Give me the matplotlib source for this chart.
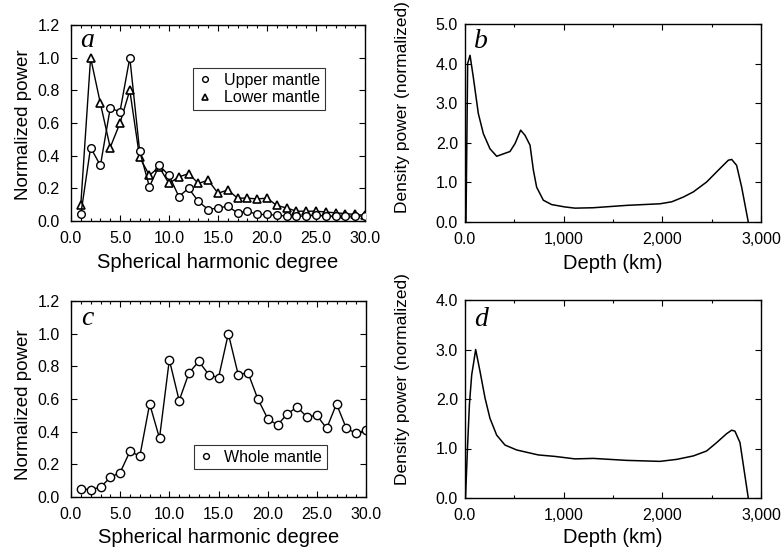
import matplotlib
matplotlib.use("Agg")
import matplotlib.pyplot as plt
from matplotlib.ticker import MultipleLocator, FuncFormatter

plt.rcParams['font.family'] = ['Liberation Sans', 'DejaVu Sans']

# spherical harmonic degree 1..30
degree = list(range(1, 31))
upper_mantle = [0.04, 0.45, 0.34, 0.69, 0.67, 1.00, 0.43, 0.21, 0.34, 0.28,
                0.15, 0.20, 0.12, 0.07, 0.08, 0.09, 0.05, 0.06, 0.04, 0.04,
                0.035, 0.03, 0.03, 0.03, 0.035, 0.03, 0.03, 0.03, 0.03, 0.03]
lower_mantle = [0.10, 1.00, 0.72, 0.45, 0.60, 0.80, 0.39, 0.28, 0.33, 0.23,
                0.27, 0.29, 0.23, 0.25, 0.17, 0.19, 0.14, 0.14, 0.135, 0.14,
                0.095, 0.08, 0.06, 0.06, 0.06, 0.055, 0.05, 0.045, 0.04, 0.035]
whole_mantle = [0.05, 0.045, 0.06, 0.12, 0.15, 0.28, 0.25, 0.57, 0.36, 0.84,
                0.59, 0.76, 0.83, 0.75, 0.73, 1.00, 0.75, 0.76, 0.60, 0.48,
                0.44, 0.51, 0.55, 0.49, 0.50, 0.42, 0.57, 0.42, 0.39, 0.41]

# density power vs depth
depth_b = [10, 27, 51, 84, 135, 186, 253, 321, 456, 507, 564, 608, 659, 693,
           726, 794, 878, 1013, 1115, 1300, 1639, 1976, 2095, 2213, 2314,
           2449, 2584, 2669, 2703, 2753, 2804, 2871]
power_b = [0.0, 4.0, 4.21, 3.66, 2.74, 2.23, 1.85, 1.66, 1.78, 1.98, 2.32,
           2.19, 1.94, 1.31, 0.88, 0.55, 0.44, 0.38, 0.35, 0.36, 0.42, 0.46,
           0.51, 0.63, 0.76, 1.01, 1.35, 1.56, 1.58, 1.43, 0.88, 0.0]

depth_d = [5, 25, 45, 68, 85, 108, 152, 203, 253, 321, 405, 524, 743, 912,
           1115, 1300, 1639, 1976, 2145, 2314, 2449, 2551, 2652, 2703, 2736,
           2787, 2871]
power_d = [0.0, 1.0, 1.9, 2.49, 2.7, 3.0, 2.56, 2.02, 1.61, 1.27, 1.07,
           0.97, 0.87, 0.84, 0.79, 0.80, 0.76, 0.74, 0.78, 0.85, 0.95, 1.12,
           1.30, 1.37, 1.35, 1.12, 0.0]

W, H = 782, 547
fig = plt.figure(figsize=(W / 100, H / 100), dpi=100)


def px_axes(left, right, top, bottom):
    return fig.add_axes([left / W, (H - bottom) / H, (right - left) / W, (bottom - top) / H])


def style(ax, ypad):
    for s in ax.spines.values():
        s.set_linewidth(1.0)
    ax.tick_params(direction='in', which='both', top=True, right=True,
                   labelsize=11.5, width=0.8)
    ax.tick_params(which='major', length=4)
    ax.tick_params(which='minor', length=2.5)
    ax.tick_params(axis='x', which='both', pad=7.5)
    ax.tick_params(axis='y', which='both', pad=ypad)


def clean_legend(ax):
    leg = ax.legend_
    leg.get_frame().set_linewidth(0.8)
    for line in leg.get_lines():
        line.set_linestyle('none')


one_dec = FuncFormatter(lambda v, p: f"{v:.1f}")
thousands = FuncFormatter(lambda v, p: "0.0" if v == 0 else f"{int(v):,}")

# ---- a ----
ax_a = px_axes(71, 365, 25, 221)
ax_a.plot(degree, upper_mantle, color='black', lw=1, marker='o', ms=5.5,
          mfc='white', mec='black', mew=1, label='Upper mantle', zorder=3)
ax_a.plot(degree, lower_mantle, color='black', lw=1, marker='^', ms=5.5,
          mfc='white', mec='black', mew=1.2, label='Lower mantle', zorder=2)
ax_a.set_xlim(0, 30)
ax_a.set_ylim(0, 1.2)
ax_a.xaxis.set_major_locator(MultipleLocator(5))
ax_a.xaxis.set_minor_locator(MultipleLocator(1))
ax_a.yaxis.set_major_locator(MultipleLocator(0.2))
ax_a.xaxis.set_major_formatter(one_dec)
ax_a.yaxis.set_major_formatter(one_dec)
ax_a.set_xlabel('Spherical harmonic degree', fontsize=14.5)
ax_a.set_ylabel('Normalized power', fontsize=13.5)
ax_a.xaxis.set_label_coords(0.5, -0.165)
ax_a.yaxis.set_label_coords(-0.132, 0.49)
ax_a.legend(loc='upper right', bbox_to_anchor=(0.89, 0.82), fontsize=11.5,
            frameon=True, fancybox=False, edgecolor='black', handlelength=0.9,
            handletextpad=0.7, borderpad=0.3, labelspacing=0.15, markerscale=0.75)
clean_legend(ax_a)
ax_a.text(0.03, 0.89, 'a', transform=ax_a.transAxes, fontsize=20,
          style='italic', family='Liberation Serif')
style(ax_a, 8)

# ---- b ----
ax_b = px_axes(465, 761, 24, 222)
ax_b.plot(depth_b, power_b, color='black', lw=1.1)
ax_b.set_xlim(0, 3000)
ax_b.set_ylim(0, 5)
ax_b.xaxis.set_major_locator(MultipleLocator(1000))
ax_b.xaxis.set_minor_locator(MultipleLocator(500))
ax_b.yaxis.set_major_locator(MultipleLocator(1))
ax_b.xaxis.set_major_formatter(thousands)
ax_b.yaxis.set_major_formatter(one_dec)
ax_b.set_xlabel('Depth (km)', fontsize=14.5)
ax_b.set_ylabel('Density power (normalized)', fontsize=12.5)
ax_b.xaxis.set_label_coords(0.5, -0.16)
ax_b.yaxis.set_label_coords(-0.186, 0.58)
ax_b.text(0.03, 0.88, 'b', transform=ax_b.transAxes, fontsize=20,
          style='italic', family='Liberation Serif')
style(ax_b, 5)

# ---- c ----
ax_c = px_axes(71, 366, 301, 497)
ax_c.plot(degree, whole_mantle, color='black', lw=1, marker='o', ms=6,
          mfc='white', mec='black', mew=1, label='Whole mantle')
ax_c.set_xlim(0, 30)
ax_c.set_ylim(0, 1.2)
ax_c.xaxis.set_major_locator(MultipleLocator(5))
ax_c.xaxis.set_minor_locator(MultipleLocator(1))
ax_c.yaxis.set_major_locator(MultipleLocator(0.2))
ax_c.xaxis.set_major_formatter(one_dec)
ax_c.yaxis.set_major_formatter(one_dec)
ax_c.set_xlabel('Spherical harmonic degree', fontsize=14.5)
ax_c.set_ylabel('Normalized power', fontsize=13.5)
ax_c.xaxis.set_label_coords(0.5, -0.158)
ax_c.yaxis.set_label_coords(-0.132, 0.47)
ax_c.legend(loc='lower right', bbox_to_anchor=(0.895, 0.10), fontsize=11.5,
            frameon=True, fancybox=False, edgecolor='black', handlelength=0.9,
            handletextpad=0.7, borderpad=0.3, markerscale=0.7)
clean_legend(ax_c)
ax_c.text(0.035, 0.88, 'c', transform=ax_c.transAxes, fontsize=20,
          style='italic', family='Liberation Serif')
style(ax_c, 8)

# ---- d ----
ax_d = px_axes(465, 761, 300, 498)
ax_d.plot(depth_d, power_d, color='black', lw=1.1)
ax_d.set_xlim(0, 3000)
ax_d.set_ylim(0, 4)
ax_d.xaxis.set_major_locator(MultipleLocator(1000))
ax_d.xaxis.set_minor_locator(MultipleLocator(500))
ax_d.yaxis.set_major_locator(MultipleLocator(1))
ax_d.xaxis.set_major_formatter(thousands)
ax_d.yaxis.set_major_formatter(one_dec)
ax_d.set_xlabel('Depth (km)', fontsize=14.5)
ax_d.set_ylabel('Density power (normalized)', fontsize=12.5)
ax_d.xaxis.set_label_coords(0.5, -0.152)
ax_d.yaxis.set_label_coords(-0.186, 0.60)
ax_d.text(0.03, 0.87, 'd', transform=ax_d.transAxes, fontsize=20,
          style='italic', family='Liberation Serif')
style(ax_d, 5)

fig.savefig('out.png', dpi=100)
